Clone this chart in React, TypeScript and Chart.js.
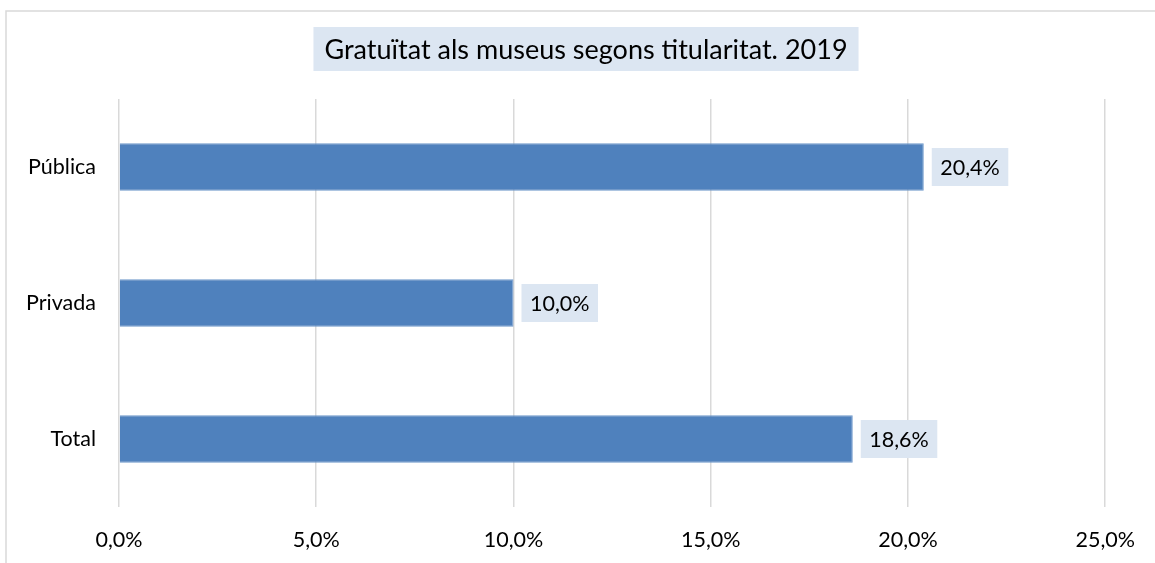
import React, { useEffect, useRef } from "react";
import { Chart, registerables } from "chart.js";

Chart.register(...registerables);

const categories = ["Pública", "Privada", "Total"];
const values = [20.4, 10.0, 18.6];
const xTicks = [0, 5, 10, 15, 20, 25];
const titleText = "Gratuïtat als museus segons titularitat. 2019";

const FONT = "Lato";
const fmt = (v: number) => v.toFixed(1).replace(".", ",") + "%";

const framePlugin = {
  id: "frame",
  afterDraw(chart: any) {
    const ctx = chart.ctx;
    ctx.save();
    ctx.strokeStyle = "#d9d9d9";
    ctx.lineWidth = 1.5;
    ctx.beginPath();
    ctx.moveTo(6, 563);
    ctx.lineTo(6, 11);
    ctx.lineTo(1155, 11);
    ctx.stroke();
    // title box
    ctx.font = `27px ${FONT}`;
    const w = ctx.measureText(titleText).width;
    const cx = 586;
    const cy = 49;
    ctx.fillStyle = "#dce6f2";
    ctx.fillRect(cx - w / 2 - 11, cy - 22, w + 22, 44);
    ctx.fillStyle = "#000";
    ctx.textAlign = "center";
    ctx.textBaseline = "middle";
    ctx.fillText(titleText, cx, cy + 1);
    // data labels
    const meta = chart.getDatasetMeta(0);
    ctx.font = `21.5px ${FONT}`;
    meta.data.forEach((bar: any, i: number) => {
      const t = fmt(values[i]);
      const tw = ctx.measureText(t).width;
      const x0 = bar.x + 8;
      const bw = tw + 17;
      ctx.fillStyle = "#dce6f2";
      ctx.fillRect(x0, bar.y - 19, bw, 38);
      ctx.fillStyle = "#000";
      ctx.textAlign = "center";
      ctx.fillText(t, x0 + bw / 2, bar.y + 1);
    });
    ctx.restore();
  },
};

export default function App() {
  const ref = useRef<HTMLCanvasElement>(null);
  useEffect(() => {
    document.body.style.margin = "0";
    const chart = new Chart(ref.current!, {
      type: "bar",
      data: {
        labels: categories,
        datasets: [
          {
            data: values,
            backgroundColor: "#4f81bd",
            borderColor: "#6f98cb",
            borderWidth: 1,
            categoryPercentage: 1,
            barPercentage: 0.35,
          },
        ],
      },
      options: {
        indexAxis: "y",
        animation: false,
        responsive: false,
        layout: { padding: { top: 99, right: 49, left: 0, bottom: 0 } },
        plugins: { legend: { display: false }, title: { display: false }, tooltip: { enabled: false } },
        scales: {
          x: {
            min: 0,
            max: 25,
            afterBuildTicks: (s: any) => {
              s.ticks = xTicks.map((v) => ({ value: v }));
            },
            afterFit: (s: any) => {
              s.height = 56;
            },
            grid: { color: "#d9d9d9", lineWidth: 1.5, drawTicks: false },
            border: { display: false },
            ticks: {
              padding: 20,
              color: "#000",
              font: { family: FONT, size: 21.5 },
              callback: (v: any) => fmt(Number(v)),
            },
          },
          y: {
            afterFit: (s: any) => {
              s.width = 119;
            },
            grid: { display: false, drawTicks: false },
            border: { display: false },
            ticks: {
              padding: 23,
              color: "#000",
              font: { family: FONT, size: 21.5 },
            },
          },
        },
      },
      plugins: [framePlugin],
    });
    return () => chart.destroy();
  }, []);
  return (
    <div style={{ width: 1155, height: 563 }}>
      <canvas ref={ref} width={1155} height={563} />
    </div>
  );
}
